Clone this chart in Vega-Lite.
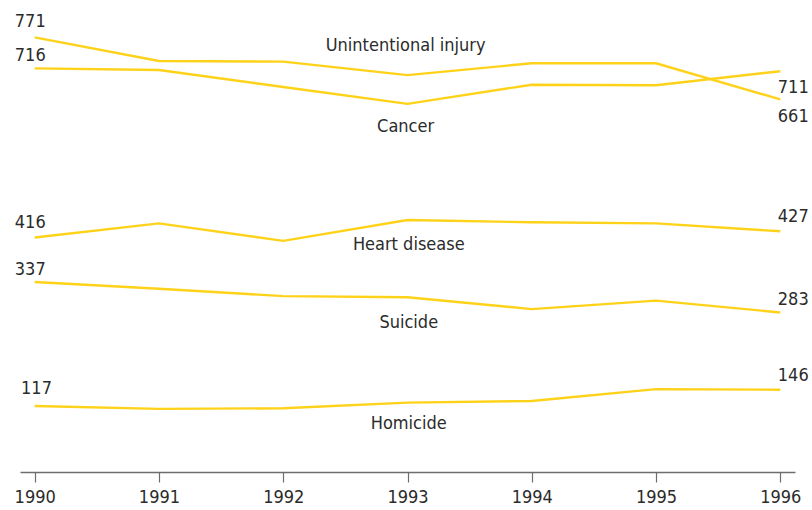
{
  "$schema": "https://vega.github.io/schema/vega-lite/v6.json",
  "width": 775,
  "height": 472,
  "autosize": "none",
  "padding": {"left": 20, "top": 0, "right": 17, "bottom": 38},
  "background": "white",
  "config": {"view": {"stroke": null}, "font": "DejaVu Sans Condensed"},
  "datasets": {
    "series": [
      {"cause": "Unintentional injury", "year": 1990, "rate": 771},
      {"cause": "Unintentional injury", "year": 1991, "rate": 729},
      {"cause": "Unintentional injury", "year": 1992, "rate": 728},
      {"cause": "Unintentional injury", "year": 1993, "rate": 704},
      {"cause": "Unintentional injury", "year": 1994, "rate": 725},
      {"cause": "Unintentional injury", "year": 1995, "rate": 725},
      {"cause": "Unintentional injury", "year": 1996, "rate": 661},
      {"cause": "Cancer", "year": 1990, "rate": 716},
      {"cause": "Cancer", "year": 1991, "rate": 713},
      {"cause": "Cancer", "year": 1992, "rate": 683},
      {"cause": "Cancer", "year": 1993, "rate": 653},
      {"cause": "Cancer", "year": 1994, "rate": 687},
      {"cause": "Cancer", "year": 1995, "rate": 686},
      {"cause": "Cancer", "year": 1996, "rate": 711},
      {"cause": "Heart disease", "year": 1990, "rate": 416},
      {"cause": "Heart disease", "year": 1991, "rate": 441},
      {"cause": "Heart disease", "year": 1992, "rate": 410},
      {"cause": "Heart disease", "year": 1993, "rate": 447},
      {"cause": "Heart disease", "year": 1994, "rate": 443},
      {"cause": "Heart disease", "year": 1995, "rate": 441},
      {"cause": "Heart disease", "year": 1996, "rate": 427},
      {"cause": "Suicide", "year": 1990, "rate": 337},
      {"cause": "Suicide", "year": 1991, "rate": 325},
      {"cause": "Suicide", "year": 1992, "rate": 312},
      {"cause": "Suicide", "year": 1993, "rate": 310},
      {"cause": "Suicide", "year": 1994, "rate": 289},
      {"cause": "Suicide", "year": 1995, "rate": 304},
      {"cause": "Suicide", "year": 1996, "rate": 283},
      {"cause": "Homicide", "year": 1990, "rate": 117},
      {"cause": "Homicide", "year": 1991, "rate": 112},
      {"cause": "Homicide", "year": 1992, "rate": 113},
      {"cause": "Homicide", "year": 1993, "rate": 123},
      {"cause": "Homicide", "year": 1994, "rate": 126},
      {"cause": "Homicide", "year": 1995, "rate": 147},
      {"cause": "Homicide", "year": 1996, "rate": 146}
    ],
    "valueLabels": [
      {"text": "771", "x": 1989.84, "y": 790},
      {"text": "716", "x": 1989.84, "y": 729},
      {"text": "416", "x": 1989.84, "y": 432},
      {"text": "337", "x": 1989.84, "y": 349},
      {"text": "117", "x": 1989.89, "y": 138},
      {"text": "711", "x": 1995.98, "y": 673},
      {"text": "661", "x": 1995.98, "y": 620},
      {"text": "427", "x": 1995.98, "y": 443},
      {"text": "283", "x": 1995.98, "y": 297},
      {"text": "146", "x": 1995.98, "y": 162}
    ],
    "nameLabels": [
      {"text": "Unintentional injury", "x": 1992.985, "y": 746},
      {"text": "Cancer", "x": 1992.985, "y": 604},
      {"text": "Heart disease", "x": 1993.01, "y": 394},
      {"text": "Suicide", "x": 1993.01, "y": 256},
      {"text": "Homicide", "x": 1993.01, "y": 77}
    ]
  },
  "layer": [
    {
      "data": {"name": "series"},
      "mark": {"type": "line", "color": "#FFD21A", "strokeWidth": 2.4, "clip": false},
      "encoding": {
        "x": {
          "field": "year",
          "type": "quantitative",
          "scale": {"domain": [1989.8817, 1996.1183], "nice": false, "zero": false},
          "axis": {
            "values": [1990, 1991, 1992, 1993, 1994, 1995, 1996],
            "format": "d",
            "title": null,
            "grid": false,
            "domainColor": "#6d6d6d",
            "domainWidth": 1.5,
            "tickColor": "#6d6d6d",
            "tickSize": 10,
            "tickWidth": 1.2,
            "labelFontSize": 18,
            "labelColor": "#2b2b2b",
            "labelFont": "DejaVu Sans Condensed",
            "labelPadding": 6,
            "labelFlush": false
          }
        },
        "y": {
          "field": "rate",
          "type": "quantitative",
          "scale": {"domain": [0, 837.3], "nice": false},
          "axis": null
        },
        "detail": {"field": "cause"}
      }
    },
    {
      "data": {"name": "valueLabels"},
      "mark": {"type": "text", "align": "left", "baseline": "alphabetic", "fontSize": 18, "color": "#2b2b2b", "font": "DejaVu Sans Condensed", "clip": false},
      "encoding": {
        "x": {"field": "x", "type": "quantitative"},
        "y": {"field": "y", "type": "quantitative"},
        "text": {"field": "text"}
      }
    },
    {
      "data": {"name": "nameLabels"},
      "mark": {"type": "text", "align": "center", "baseline": "alphabetic", "fontSize": 18, "color": "#2b2b2b", "font": "DejaVu Sans Condensed", "clip": false},
      "encoding": {
        "x": {"field": "x", "type": "quantitative"},
        "y": {"field": "y", "type": "quantitative"},
        "text": {"field": "text"}
      }
    }
  ]
}
